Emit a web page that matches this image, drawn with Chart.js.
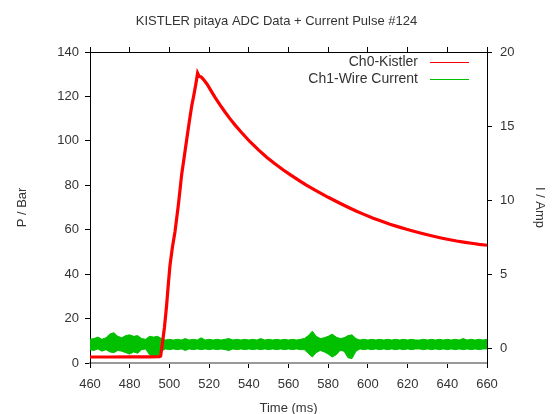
<!DOCTYPE html>
<html>
<head>
<meta charset="utf-8">
<title>KISTLER pitaya ADC Data</title>
<script src="https://cdn.jsdelivr.net/npm/chart.js@4.4.1/dist/chart.umd.min.js"></script>
<style>
  html, body { margin: 0; padding: 0; background: #fff; }
  #wrap { width: 553px; height: 414px; }
</style>
</head>
<body>
<div id="wrap"><canvas id="pulse-chart" width="553" height="414"></canvas></div>
<script>
// Ch0 - Kistler pressure (bar)
const kistlerTime = [460, 470, 480, 490, 495, 495.6, 496.5, 497.5, 498.6, 499.5, 500.3, 501.5, 502.8, 504.5,
  506.2, 507.5, 508.7, 510, 511.2, 512.5, 513.5, 514.2, 515, 516, 517, 519, 521, 523, 525.5, 528, 530.5,
  533, 536, 540.6, 545, 549, 553, 557.4, 561, 565.8, 569, 573.4, 580, 585.9, 590, 594.3, 598, 602.7, 607,
  611.1, 615, 619.5, 624, 627.9, 632, 636.3, 640, 644.7, 649, 653.1, 656, 660];
const kistlerP = [2.7, 2.7, 2.8, 2.8, 2.9, 3.2, 9, 16, 26, 36, 44, 52, 59, 71,
  85, 93, 100.5, 108.5, 115.5, 121.5, 126.5, 130.5, 129, 128.8, 127.8, 125.5, 122.5, 119.6, 116.2, 113, 110,
  107.2, 104.1, 99.6, 95.8, 92.6, 89.8, 86.9, 84.7, 81.9, 80.1, 77.8, 74.6, 71.9, 70.1, 68.3, 66.9, 65.2, 63.8,
  62.5, 61.4, 60.2, 59.1, 58.2, 57.3, 56.4, 55.7, 54.9, 54.3, 53.8, 53.4, 53.0];

// Ch1 - wire current (A): noise band, upper and lower edge every 2 ms
const currentTime = [460, 462, 464, 466, 468, 470, 472, 474, 476, 478, 480, 482, 484, 486, 488, 490, 492, 494, 496, 498,
  500, 502, 504, 506, 508, 510, 512, 514, 516, 518, 520, 522, 524, 526, 528, 530, 532, 534, 536, 538,
  540, 542, 544, 546, 548, 550, 552, 554, 556, 558, 560, 562, 564, 566, 568, 570, 572, 574, 576, 578,
  580, 582, 584, 586, 588, 590, 592, 594, 596, 598, 600, 602, 604, 606, 608, 610, 612, 614, 616, 618,
  620, 622, 624, 626, 628, 630, 632, 634, 636, 638, 640, 642, 644, 646, 648, 650, 652, 654, 656, 658, 660];
const currentHigh = [0.60, 0.65, 0.75, 0.60, 0.70, 0.95, 1.05, 0.80, 0.70, 0.85, 0.90, 0.80, 0.85, 0.65, 0.60, 0.80, 0.75, 0.80, 0.65, 0.55,
  0.60, 0.55, 0.60, 0.55, 0.65, 0.55, 0.60, 0.55, 0.70, 0.55, 0.60, 0.55, 0.60, 0.55, 0.60, 0.65, 0.55, 0.60, 0.55, 0.60,
  0.55, 0.60, 0.55, 0.65, 0.55, 0.60, 0.55, 0.60, 0.55, 0.60, 0.55, 0.60, 0.55, 0.60, 0.65, 0.85, 1.15, 0.80, 0.65, 0.70,
  0.80, 0.95, 0.75, 0.65, 0.70, 0.85, 0.90, 0.65, 0.55, 0.60, 0.55, 0.60, 0.55, 0.60, 0.55, 0.60, 0.55, 0.60, 0.55, 0.60,
  0.55, 0.60, 0.55, 0.55, 0.60, 0.55, 0.60, 0.55, 0.60, 0.55, 0.60, 0.55, 0.60, 0.55, 0.65, 0.55, 0.60, 0.55, 0.60, 0.55, 0.60];
const currentLow = [-0.10, -0.15, -0.05, -0.20, -0.10, -0.25, -0.30, -0.15, -0.20, -0.30, -0.40, -0.25, -0.35, -0.10, -0.05, -0.45, -0.55, -0.60, -0.20, -0.05,
  -0.10, -0.05, -0.10, -0.05, -0.15, -0.05, -0.10, -0.05, -0.10, -0.05, -0.10, -0.05, -0.10, -0.05, -0.10, -0.15, -0.05, -0.10, -0.05, -0.10,
  -0.05, -0.10, -0.05, -0.10, -0.05, -0.10, -0.05, -0.10, -0.05, -0.10, -0.05, -0.10, -0.05, -0.10, -0.10, -0.35, -0.60, -0.30, -0.15, -0.25,
  -0.40, -0.60, -0.45, -0.15, -0.20, -0.65, -0.70, -0.20, -0.05, -0.10, -0.05, -0.10, -0.05, -0.10, -0.05, -0.10, -0.05, -0.10, -0.05, -0.10,
  -0.05, -0.10, -0.05, -0.05, -0.10, -0.05, -0.10, -0.05, -0.10, -0.05, -0.10, -0.05, -0.10, -0.05, -0.10, -0.05, -0.10, -0.05, -0.10, -0.05, -0.05];

// Axis ticks
const pressureTicks = { min: 0, max: 140, step: 20 };
const currentTicks = { min: -1, max: 20, values: [0, 5, 10, 15, 20] };
const timeTicks = { min: 460, max: 660, step: 20 };

const RED = '#ff0000';
const GREEN = '#00c000';
const TEXT = '#333333';
const FONT = { family: "'Liberation Sans', Arial, sans-serif", size: 13 };
const KEY_FONT_SIZE = 14;

const toPoints = (xs, ys) => xs.map((x, i) => ({ x, y: ys[i] }));

// gnuplot style key: text right aligned, sample line on the right
const keyPlugin = {
  id: 'gnuplotKey',
  afterDraw(chart) {
    const { ctx, chartArea } = chart;
    const entries = chart.data.datasets.filter((d) => d.keyLabel);
    ctx.save();
    ctx.font = `${KEY_FONT_SIZE}px ${FONT.family}`;
    ctx.textAlign = 'right';
    ctx.textBaseline = 'middle';
    entries.forEach((d, i) => {
      const y = chartArea.top + 10.5 + i * 17;
      ctx.fillStyle = TEXT;
      ctx.fillText(d.keyLabel, chartArea.right - 69, y);
      ctx.strokeStyle = d.keyColor;
      ctx.lineWidth = 1.2;
      ctx.beginPath();
      ctx.moveTo(chartArea.right - 57, y);
      ctx.lineTo(chartArea.right - 18, y);
      ctx.stroke();
    });
    ctx.restore();
  },
};

const ctx = document.getElementById('pulse-chart');

new Chart(ctx, {
  type: 'line',
  data: {
    datasets: [
      {
        keyLabel: 'Ch0-Kistler',
        keyColor: RED,
        data: toPoints(kistlerTime, kistlerP),
        yAxisID: 'y',
        borderColor: RED,
        borderWidth: 3.2,
        pointRadius: 0,
        tension: 0,
        fill: false,
      },
      {
        data: toPoints(currentTime, currentLow),
        yAxisID: 'y2',
        borderColor: GREEN,
        borderWidth: 1,
        pointRadius: 0,
        tension: 0,
        fill: false,
      },
      {
        keyLabel: 'Ch1-Wire Current',
        keyColor: GREEN,
        data: toPoints(currentTime, currentHigh),
        yAxisID: 'y2',
        borderColor: GREEN,
        backgroundColor: GREEN,
        borderWidth: 1,
        pointRadius: 0,
        tension: 0,
        fill: '-1',
      },
    ],
  },
  options: {
    responsive: false,
    animation: false,
    devicePixelRatio: 1,
    layout: { padding: 0 },
    plugins: {
      legend: { display: false },
      tooltip: { enabled: false },
      title: {
        display: true,
        text: 'KISTLER pitaya ADC Data + Current Pulse #124',
        color: TEXT,
        font: { ...FONT, weight: 'normal' },
        padding: { top: 14, bottom: 0 },
      },
    },
    scales: {
      x: {
        type: 'linear',
        position: 'bottom',
        min: timeTicks.min,
        max: timeTicks.max,
        ticks: { stepSize: timeTicks.step, color: TEXT, font: FONT, padding: 9, maxRotation: 0 },
        grid: { drawOnChartArea: false, tickLength: 5, color: '#000' },
        border: { color: '#999', width: 2 },
        title: { display: true, text: 'Time (ms)', color: TEXT, font: FONT, padding: { top: 0, bottom: -2 } },
        afterFit: (s) => { s.height = 51; },
      },
      xTop: {
        type: 'linear',
        position: 'top',
        min: timeTicks.min,
        max: timeTicks.max,
        ticks: { stepSize: timeTicks.step, display: false },
        grid: { drawOnChartArea: false, tickLength: 5, color: '#000' },
        border: { color: '#000' },
        afterFit: (s) => { s.height = 22.4; },
      },
      y: {
        position: 'left',
        min: pressureTicks.min,
        max: pressureTicks.max,
        ticks: { stepSize: pressureTicks.step, color: TEXT, font: FONT, padding: 6 },
        grid: { drawOnChartArea: false, tickLength: 5, color: '#000' },
        border: { color: '#000' },
        title: { display: true, text: 'P / Bar', color: TEXT, font: FONT, padding: { top: 15, bottom: 0 } },
        afterFit: (s) => { s.width = 90; },
      },
      y2: {
        position: 'right',
        min: currentTicks.min,
        max: currentTicks.max,
        afterBuildTicks: (s) => { s.ticks = currentTicks.values.map((value) => ({ value })); },
        ticks: { color: TEXT, font: FONT, padding: 8 },
        grid: { drawOnChartArea: false, tickLength: 5, color: '#000' },
        border: { color: '#000' },
        title: { display: true, text: 'I / Amp', color: TEXT, font: FONT, padding: { top: 6, bottom: 0 } },
        afterFit: (s) => { s.width = 66; },
      },
    },
  },
  plugins: [keyPlugin],
});
</script>
</body>
</html>
